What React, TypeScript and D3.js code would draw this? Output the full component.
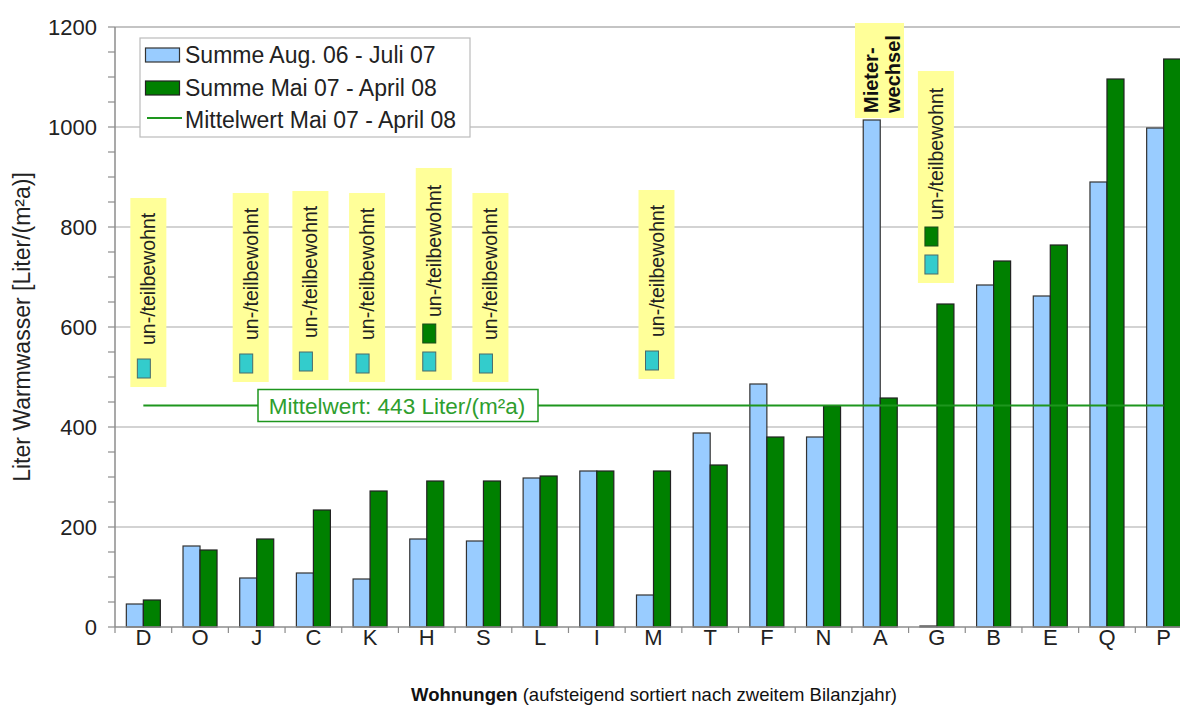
import React from "react";
import * as d3 from "d3";

const categories = ["D","O","J","C","K","H","S","L","I","M","T","F","N","A","G","B","E","Q","P"];
const seriesAug06Jul07 = [46,162,98,108,96,176,172,298,312,64,388,486,380,1014,2,684,662,890,998];
const seriesMai07Apr08 = [54,154,176,234,272,292,292,302,312,312,324,380,442,458,646,732,764,1096,1136];
const meanValue = 443;
const yTicks = [0,200,400,600,800,1000,1200];
const seriesNames = ["Summe Aug. 06 - Juli 07","Summe Mai 07 - April 08"];
const meanLegend = "Mittelwert Mai 07 - April 08";
const meanLabel = "Mittelwert: 443 Liter/(m²a)";
const annotationCats = ["D","J","C","K","H","S","M","G"];
const annotationTwoSwatch = ["H","G"];
const annotationBottomValues = [480,490,494,490,494,490,496,688];
const annotationDx = [5,-6,-3,-3,7,7,3,-1];

const W = 1180, H = 707;
const FONT = "'Liberation Sans', Arial, Helvetica, sans-serif";

export default function App() {
  const x = d3.scaleBand<string>().domain(categories).range([115, 1192]).paddingInner(0.4).paddingOuter(0.2);
  const xs = d3.scaleBand<string>().domain(["a","b"]).range([0, x.bandwidth()]);
  const y = d3.scaleLinear().domain([0, 1200]).range([627, 27]);
  const minor = d3.range(0, 1201, 50);
  const blue = "#99CCFF", green = "#008000", cyan = "#33CCCC", yellow = "#FFFF99";
  const meanColor = "#1E961E";
  const cx = (c: string) => (x(c) as number) + x.bandwidth() / 2;

  return (
    <svg width={W} height={H} style={{ display: "block", position: "absolute", left: 0, top: 0, background: "#fff" }} fontFamily={FONT}>
      <rect x={0} y={0} width={W} height={H} fill="#fff" />
      {/* grid */}
      {yTicks.filter(t => t > 0).map(t => (
        <line key={t} x1={115} x2={W} y1={y(t)} y2={y(t)} stroke="#C4C4C4" strokeWidth={t === 1200 ? 2 : 1.5} />
      ))}
      {/* y axis */}
      <line x1={115} x2={115} y1={27} y2={627} stroke="#8C8C8C" strokeWidth={1.5} />
      {minor.map(t => (
        <line key={t} x1={108} x2={115} y1={y(t)} y2={y(t)} stroke="#8C8C8C" strokeWidth={1.2} />
      ))}
      {yTicks.map(t => (
        <text key={t} x={97} y={y(t)} dy="0.36em" textAnchor="end" fontSize={22} fill="#222">{t}</text>
      ))}
      <text transform={`translate(30,327) rotate(-90)`} textAnchor="middle" fontSize={23} fill="#222">Liter Warmwasser [Liter/(m²a)]</text>

      {/* annotations */}
      {annotationCats.map((c, i) => {
        const two = annotationTwoSwatch.includes(c);
        const bx = cx(c) + annotationDx[i];
        const by = y(annotationBottomValues[i]);
        const hgt = two ? 212 : 189;
        const textStart = two ? 63 : 42;
        return (
          <g key={c} transform={`translate(${bx},${by}) rotate(-90)`}>
            <rect x={0} y={-18} width={hgt} height={36} fill={yellow} />
            <rect x={9} y={-11} width={19} height={13} fill={cyan} stroke="#4A6A6A" strokeWidth={1} />
            {two && <rect x={37} y={-11} width={19} height={13} fill={green} stroke="#1A4A1A" strokeWidth={1} />}
            <text x={textStart} y={7} fontSize={19.5} fill="#222">un-/teilbewohnt</text>
          </g>
        );
      })}
      <g transform={`translate(879.5,118) rotate(-90)`}>
        <rect x={0} y={-24.5} width={95} height={49} fill={yellow} />
        <text x={5} y={-2} fontSize={20} fontWeight="bold" fill="#111">Mieter-</text>
        <text x={5} y={20} fontSize={20} fontWeight="bold" fill="#111">wechsel</text>
      </g>

      {/* bars */}
      {categories.map((c, i) => (
        <g key={c}>
          <rect x={(x(c) as number) + (xs("a") as number)} y={y(seriesAug06Jul07[i])} width={xs.bandwidth()} height={y(0) - y(seriesAug06Jul07[i])} fill={blue} stroke="#333" strokeWidth={1.2} />
          <rect x={(x(c) as number) + (xs("b") as number)} y={y(seriesMai07Apr08[i])} width={xs.bandwidth()} height={y(0) - y(seriesMai07Apr08[i])} fill={green} stroke="#222" strokeWidth={1.2} />
        </g>
      ))}

      {/* x axis */}
      <line x1={115} x2={W} y1={627} y2={627} stroke="#8C8C8C" strokeWidth={1.5} />
      {categories.map((c, i) => (
        <line key={c} x1={115 + x.step() * i} x2={115 + x.step() * i} y1={627} y2={633} stroke="#8C8C8C" strokeWidth={1.2} />
      ))}
      {categories.map(c => (
        <text key={c} x={cx(c)} y={645} textAnchor="middle" fontSize={22} fill="#222">{c}</text>
      ))}
      <text x={654} y={701} textAnchor="middle" fill="#111">
        <tspan fontWeight="bold" fontSize={18.5}>Wohnungen</tspan>
        <tspan fontSize={18.5}> (aufsteigend sortiert nach zweitem Bilanzjahr)</tspan>
      </text>

      {/* mean line */}
      <line x1={cx(categories[0])} x2={cx(categories[categories.length - 1])} y1={y(meanValue)} y2={y(meanValue)} stroke={meanColor} strokeWidth={2.2} />
      <rect x={258} y={y(meanValue) - 16} width={280} height={32} fill="#fff" stroke={meanColor} strokeWidth={1.5} />
      <text x={397} y={y(meanValue)} dy="0.36em" textAnchor="middle" fontSize={22.5} fill="#2E9E2E">{meanLabel}</text>

      {/* legend */}
      <rect x={140} y={38} width={330} height={99} fill="#fff" stroke="#BBBBBB" strokeWidth={1.2} />
      <rect x={145.5} y={48} width={34} height={14} fill={blue} stroke="#333" strokeWidth={1.2} />
      <text x={185} y={55} dy="0.36em" fontSize={23} fill="#222">{seriesNames[0]}</text>
      <rect x={145.5} y={81} width={34} height={14} fill={green} stroke="#222" strokeWidth={1.2} />
      <text x={185} y={88} dy="0.36em" fontSize={23} fill="#222">{seriesNames[1]}</text>
      <line x1={147} x2={182} y1={118} y2={118} stroke={meanColor} strokeWidth={2.2} />
      <text x={185} y={120} dy="0.36em" fontSize={23} fill="#222">{meanLegend}</text>
    </svg>
  );
}
